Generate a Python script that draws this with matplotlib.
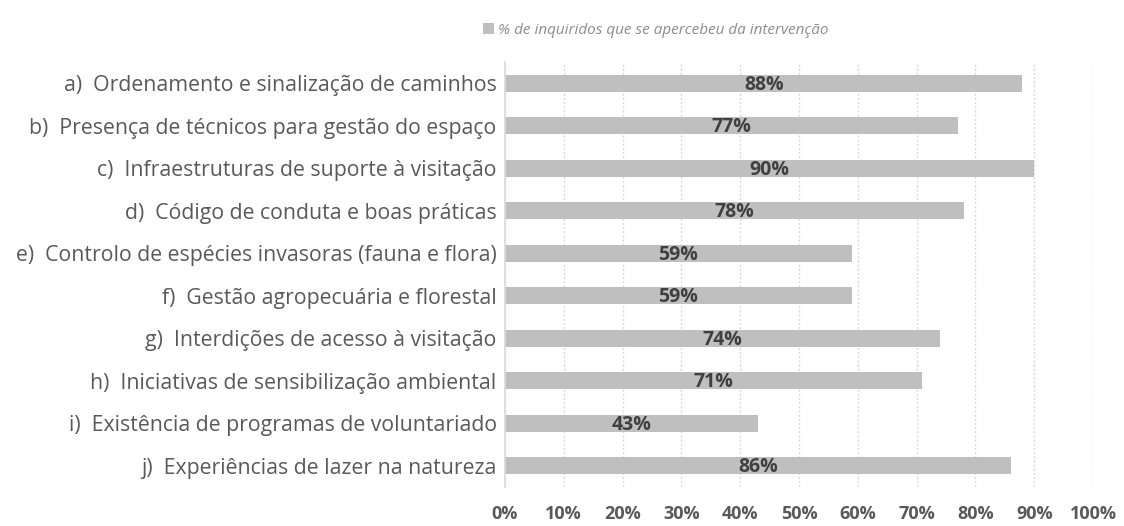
import matplotlib.pyplot as plt
import numpy as np

categories = [
    "a)  Ordenamento e sinalização de caminhos",
    "b)  Presença de técnicos para gestão do espaço",
    "c)  Infraestruturas de suporte à visitação",
    "d)  Código de conduta e boas práticas",
    "e)  Controlo de espécies invasoras (fauna e flora)",
    "f)  Gestão agropecuária e florestal",
    "g)  Interdições de acesso à visitação",
    "h)  Iniciativas de sensibilização ambiental",
    "i)  Existência de programas de voluntariado",
    "j)  Experiências de lazer na natureza",
]
values = [88, 77, 90, 78, 59, 59, 74, 71, 43, 86]
tick_values = list(range(0, 101, 10))
series_name = "% de inquiridos que se apercebeu da intervenção"

plt.rcParams['font.family'] = ['Open Sans', 'DejaVu Sans']

fig = plt.figure(figsize=(11.24, 5.26), dpi=100)
ax = fig.add_axes([505 / 1124, 1 - 487 / 526, (1093 - 505) / 1124, (487 - 62) / 526])

y = np.arange(len(categories))
bars = ax.barh(y, values, height=0.4, color='#bfbfbf', label=series_name, zorder=2)

# value labels sit in the middle of each bar
for yi, v in zip(y, values):
    ax.text(v / 2, yi + 0.03, f"{v}%", ha='center', va='center', fontsize=14,
            fontweight='bold', color='#404040', zorder=3)

ax.set_ylim(len(categories) - 0.5, -0.5)
ax.set_xlim(0, 100)
ax.set_yticks(y)
ax.set_yticklabels(categories, fontsize=15.3, color='#595959')
ax.set_xticks(tick_values)
ax.set_xticklabels([f"{t}%" for t in tick_values], fontsize=13,
                   fontweight='bold', color='#595959')
ax.tick_params(axis='both', length=0)
ax.tick_params(axis='x', pad=13)
ax.tick_params(axis='y', pad=6)

ax.grid(axis='x', linestyle=(0, (1.5, 1.5)), color='#d9d9d9', linewidth=1, zorder=0)
for side in ['top', 'right', 'bottom']:
    ax.spines[side].set_visible(False)
ax.spines['left'].set_color('#d9d9d9')
ax.spines['left'].set_linewidth(1.2)

leg = fig.legend(handles=[bars], labels=[series_name], loc='center',
                 bbox_to_anchor=(656 / 1124, 1 - 30 / 526), frameon=False,
                 handlelength=0.7, handleheight=0.7, handletextpad=0.3,
                 prop={'size': 11, 'style': 'italic'})
for t in leg.get_texts():
    t.set_color('#8c8c8c')

fig.savefig('out.png', dpi=100)
